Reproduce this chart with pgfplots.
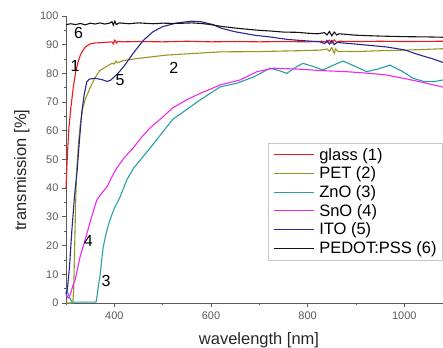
\documentclass[border=0pt]{standalone}
\usepackage{fontspec}
\setmainfont{Liberation Sans}
\usepackage{pgfplots}
\pgfplotsset{compat=1.18}
\definecolor{cglass}{RGB}{235,25,25}
\definecolor{cpet}{RGB}{150,150,35}
\definecolor{czno}{RGB}{40,160,160}
\definecolor{csno}{RGB}{240,40,240}
\definecolor{cito}{RGB}{40,40,140}
\definecolor{cped}{RGB}{20,20,20}
\definecolor{axgray}{RGB}{90,90,90}
\begin{document}
\begin{tikzpicture}
\useasboundingbox (-66pt,-44pt) rectangle (377pt,303pt);
\clip (-66pt,-44pt) rectangle (377pt,303pt);
\begin{axis}[
  at={(0pt,0pt)}, anchor=south west,
  scale only axis, width=377pt, height=287pt,
  xmin=300, xmax=1080, ymin=0, ymax=100,
  axis x line=bottom, axis y line=left,
  axis line style={-, axgray, line width=0.8pt},
  tick style={axgray, line width=0.8pt},
  tick align=outside,
  major tick length=4pt, minor tick length=2.5pt,
  xtick={400,600,800,1000}, minor xtick={300,500,700,900},
  ytick={0,10,...,100}, minor y tick num=1,
  /pgf/number format/assume math mode=true,
  /pgf/number format/1000 sep={},
  tick label style={font=\fontsize{11}{12}\selectfont, text=axgray},
  xticklabel style={yshift=-1pt},
  xlabel={wavelength [nm]}, ylabel={transmission [\%]},
  label style={font=\fontsize{16.5}{18}\selectfont, text=black!85},
  xlabel style={at={(axis description cs:0.512,0)}, anchor=center, yshift=-37pt},
  ylabel style={at={(axis description cs:-0.117,0.463)}, anchor=center},
  clip=false,
  legend style={at={(axis description cs:0.536,0.5575)}, anchor=north west,
    draw=gray!45, fill=white, inner xsep=5pt, inner ysep=4pt,
    nodes={inner sep=1pt, font=\fontsize{16.5}{16.5}\selectfont},
    row sep=3.2pt, column sep=4pt, cells={anchor=west}},
  legend image code/.code={\draw[#1, line width=1pt] (0pt,0pt) -- (40pt,0pt);},
  every axis plot/.append style={line width=1.1pt},
]
\addplot[color=cglass] coordinates {(300,40) (303,52) (306,61) (310,68) (315,75) (320,80.5) (325,84) (330,86.5) (335,88) (340,89.2) (350,90.3) (360,90.6) (380,90.8) (395,91) (398,90.3) (401,91.6) (404,90.6) (407,91.1) (420,91) (450,91.1) (500,91) (550,91.2) (600,91) (650,91.1) (700,91) (750,91.1) (800,91) (830,91.2) (840,90.8) (845,91.6) (850,90.5) (855,91.7) (860,90.8) (865,91.2) (900,91.1) (950,91.2) (1000,91.1) (1080,91.2)};
\addlegendentry{glass (1)}
\addplot[color=cpet] coordinates {(300,0) (314,0) (316,5) (318,20) (320,35) (322,46) (326,56) (330,63) (335,68) (340,71) (350,75) (360,78.5) (370,81) (385,82.5) (395,83.5) (400,83.3) (403,84.3) (406,83.7) (420,84.5) (453,85.3) (509,86.4) (560,86.9) (619,87.5) (700,87.6) (780,87.9) (825,88.1) (840,88.5) (845,87.7) (850,89) (855,87) (858,88.6) (862,87.7) (900,87.6) (950,87.9) (1000,88.1) (1080,88.6)};
\addlegendentry{PET (2)}
\addplot[color=czno] coordinates {(300,5) (305,3) (312,0.3) (362,0.3) (364,2) (367,6) (370,9) (374,15) (377,19.5) (384,25) (391,29) (400,33) (412,37) (426,43) (440,47) (474,54) (521,64) (577,70.7) (619,75.3) (654,76.6) (690,78.9) (722,81.8) (740,81) (757,80) (772,81.8) (790,83.5) (810,82.5) (832,81.2) (852,82.8) (873,84.3) (895,82.7) (922,80.6) (945,81.5) (970,82.9) (995,80.8) (1018,78.3) (1040,77.2) (1060,77.1) (1080,77.7)};
\addlegendentry{ZnO (3)}
\addplot[color=csno] coordinates {(300,4) (303,2) (306,1.7) (310,3.5) (314,6) (319,8) (324,12) (329,16) (336,20) (343,24) (352,29.5) (364,36) (375,38.5) (385,40.5) (395,44) (405,47) (420,50.5) (439,54) (455,57.5) (474,61) (500,64.8) (521,68) (550,70.8) (577,73) (600,74.6) (619,76) (660,77.7) (695,80.6) (729,81.8) (780,81.5) (825,81) (880,80.6) (929,80) (960,79.5) (998,78.3) (1040,76.8) (1080,75.2)};
\addlegendentry{SnO (4)}
\addplot[color=cito] coordinates {(300,3) (303,5) (307,12) (312,25) (318,38) (323,46) (328,57) (333,67) (338,73) (343,77) (348,78) (360,78.3) (375,77.8) (385,77.2) (392,77.6) (400,78.8) (410,80.5) (420,82.5) (439,87) (460,91.5) (480,94.5) (500,96.3) (530,97.6) (560,98.2) (580,98) (604,97) (620,95.8) (650,94.5) (690,93.3) (722,92.7) (760,91.8) (800,91.3) (825,91) (835,90.4) (840,91.5) (845,90.2) (850,91.5) (855,90) (860,90.8) (900,90.2) (964,89.2) (1000,88.2) (1032,86.4) (1060,85) (1080,83.8)};
\addlegendentry{ITO (5)}
\addplot[color=cped] coordinates {(300,97) (310,97.3) (320,97) (330,97.4) (340,96.9) (350,97.5) (360,97.2) (370,97.6) (380,97.2) (390,97.5) (395,98) (398,96.8) (401,98.2) (404,97) (410,97.6) (430,97.3) (450,97.6) (480,97.3) (500,97.5) (530,97.4) (560,97.6) (580,97.4) (600,97) (620,96.4) (650,95.8) (680,95.3) (700,95) (720,94.8) (750,94.4) (780,94.3) (800,94) (820,93.8) (835,94.2) (840,93.4) (845,94.6) (850,93.1) (855,94.4) (860,93.4) (865,93.8) (880,93.6) (900,93.3) (950,93) (1000,92.8) (1050,92.7) (1080,92.6)};
\addlegendentry{PEDOT:PSS (6)}
\begin{scope}[every node/.style={font=\fontsize{16}{16}\selectfont, text=black}]
\node at (axis cs:326,94) {6};
\node at (axis cs:319,82.5) {1};
\node at (axis cs:412,77.5) {5};
\node at (axis cs:523,82) {2};
\node at (axis cs:346,21.5) {4};
\node at (axis cs:383,7.5) {3};
\end{scope}
\end{axis}
\end{tikzpicture}
\end{document}
